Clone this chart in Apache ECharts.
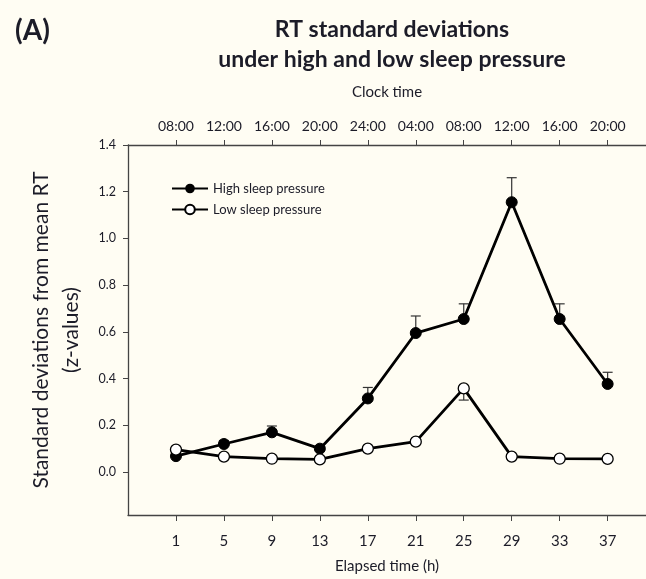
<!DOCTYPE html>
<html>
<head>
<meta charset="utf-8">
<script src="https://cdn.jsdelivr.net/npm/echarts@6/dist/echarts.min.js"></script>
<style>
html,body{margin:0;padding:0;background:#fffdf3;}
#chart{width:646px;height:579px;}
</style>
</head>
<body>
<div id="chart"></div>
<script>
const elapsedHours = [1, 5, 9, 13, 17, 21, 25, 29, 33, 37];
const clockLabels = ['08:00','12:00','16:00','20:00','24:00','04:00','08:00','12:00','16:00','20:00'];
const highValues = [0.068, 0.12, 0.17, 0.10, 0.315, 0.595, 0.655, 1.155, 0.655, 0.377];
const highErrUp = [0.01, 0.015, 0.027, 0.01, 0.047, 0.073, 0.065, 0.105, 0.065, 0.05];
const lowValues = [0.096, 0.066, 0.057, 0.054, 0.10, 0.13, 0.358, 0.066, 0.057, 0.056];
const lowErrDown = [0.005, 0.004, 0.004, 0.004, 0.006, 0.008, 0.05, 0.005, 0.004, 0.004];
const yTicks = [0, 0.2, 0.4, 0.6, 0.8, 1.0, 1.2, 1.4];

const FONT = 'Lato';
const TXT = '#1c1c28';
const AX = '#444';

const chart = echarts.init(document.getElementById('chart'));

function errBars(values, errs, dir) {
  return elapsedHours.map((h, i) => [h, values[i], values[i] + dir * errs[i]]);
}

function renderErr(params, api) {
  const x = api.value(0);
  const p0 = api.coord([x, api.value(1)]);
  const p1 = api.coord([x, api.value(2)]);
  const half = 5;
  const style = { stroke: '#333', lineWidth: 1.2 };
  return {
    type: 'group',
    children: [
      { type: 'line', shape: { x1: p0[0], y1: p0[1], x2: p1[0], y2: p1[1] }, style },
      { type: 'line', shape: { x1: p1[0] - half, y1: p1[1], x2: p1[0] + half, y2: p1[1] }, style }
    ]
  };
}

const option = {
  backgroundColor: '#fffdf3',
  animation: false,
  textStyle: { fontFamily: FONT },
  title: [
    {
      text: 'RT standard deviations\nunder high and low sleep pressure',
      left: 387, top: 10, textAlign: 'center',
      textStyle: { fontFamily: FONT, fontWeight: 'bold', fontSize: 23, lineHeight: 30, color: TXT }
    },
    {
      text: '(A)', left: 10, top: 12,
      textStyle: { fontFamily: FONT, fontWeight: 'bold', fontSize: 28, color: TXT }
    }
  ],
  legend: {
    orient: 'vertical',
    left: 166, top: 177,
    itemWidth: 36, itemHeight: 12, itemGap: 8,
    textStyle: { fontFamily: FONT, fontSize: 13, color: TXT },
    data: ['High sleep pressure', 'Low sleep pressure']
  },
  grid: { left: 128, right: 0, top: 145, bottom: 64, containLabel: false, outerBoundsMode: 'none' },
  xAxis: [
    {
      type: 'value', position: 'bottom', min: -3, max: 40.2,
      name: 'Elapsed time (h)', nameLocation: 'middle', nameGap: 44,
      nameTextStyle: { fontFamily: FONT, fontSize: 15, color: TXT },
      axisLine: { show: true, onZero: false, lineStyle: { color: AX, width: 1.3 } },
      axisTick: { show: true, customValues: elapsedHours, length: 6, lineStyle: { color: AX } },
      axisLabel: { customValues: elapsedHours, margin: 19, fontFamily: FONT, fontSize: 15, color: TXT },
      splitLine: { show: false }
    },
    {
      type: 'value', position: 'top', min: -3, max: 40.2,
      name: 'Clock time', nameLocation: 'middle', nameGap: 45,
      nameTextStyle: { fontFamily: FONT, fontSize: 15, color: TXT },
      axisLine: { show: true, onZero: false, lineStyle: { color: AX, width: 1.3 } },
      axisTick: { show: true, customValues: elapsedHours, length: 5, lineStyle: { color: AX } },
      axisLabel: {
        customValues: elapsedHours, margin: 12, fontFamily: FONT, fontSize: 14, color: TXT,
        formatter: v => clockLabels[elapsedHours.indexOf(v)]
      },
      splitLine: { show: false }
    }
  ],
  yAxis: {
    type: 'value', min: -0.184, max: 1.4,
    name: 'Standard deviations from mean RT\n(z-values)', nameLocation: 'middle', nameGap: 42,
    nameTextStyle: { fontFamily: FONT, fontSize: 21, lineHeight: 30, color: TXT },
    axisLine: { show: true, onZero: false, lineStyle: { color: AX, width: 1.3 } },
    axisTick: { show: true, customValues: yTicks, length: 5, lineStyle: { color: AX } },
    axisLabel: { customValues: yTicks, margin: 12, fontFamily: FONT, fontSize: 12.5, color: TXT, formatter: v => v.toFixed(1) },
    splitLine: { show: false }
  },
  series: [
    {
      type: 'custom', name: 'highErr', xAxisIndex: 0, renderItem: renderErr,
      data: errBars(highValues, highErrUp, 1), z: 1, silent: true
    },
    {
      type: 'custom', name: 'lowErr', xAxisIndex: 0, renderItem: renderErr,
      data: errBars(lowValues, lowErrDown, -1), z: 1, silent: true
    },
    {
      name: 'High sleep pressure', type: 'line', xAxisIndex: 0,
      data: elapsedHours.map((h, i) => [h, highValues[i]]),
      symbol: 'circle', symbolSize: 11,
      lineStyle: { color: '#000', width: 2.8 },
      itemStyle: { color: '#000', borderColor: '#000' }, z: 3
    },
    {
      name: 'Low sleep pressure', type: 'line', xAxisIndex: 0,
      data: elapsedHours.map((h, i) => [h, lowValues[i]]),
      symbol: 'circle', symbolSize: 11,
      lineStyle: { color: '#000', width: 2.8 },
      itemStyle: { color: '#fff', borderColor: '#000', borderWidth: 1.3 }, z: 4
    }
  ]
};
chart.setOption(option);
</script>
</body>
</html>
